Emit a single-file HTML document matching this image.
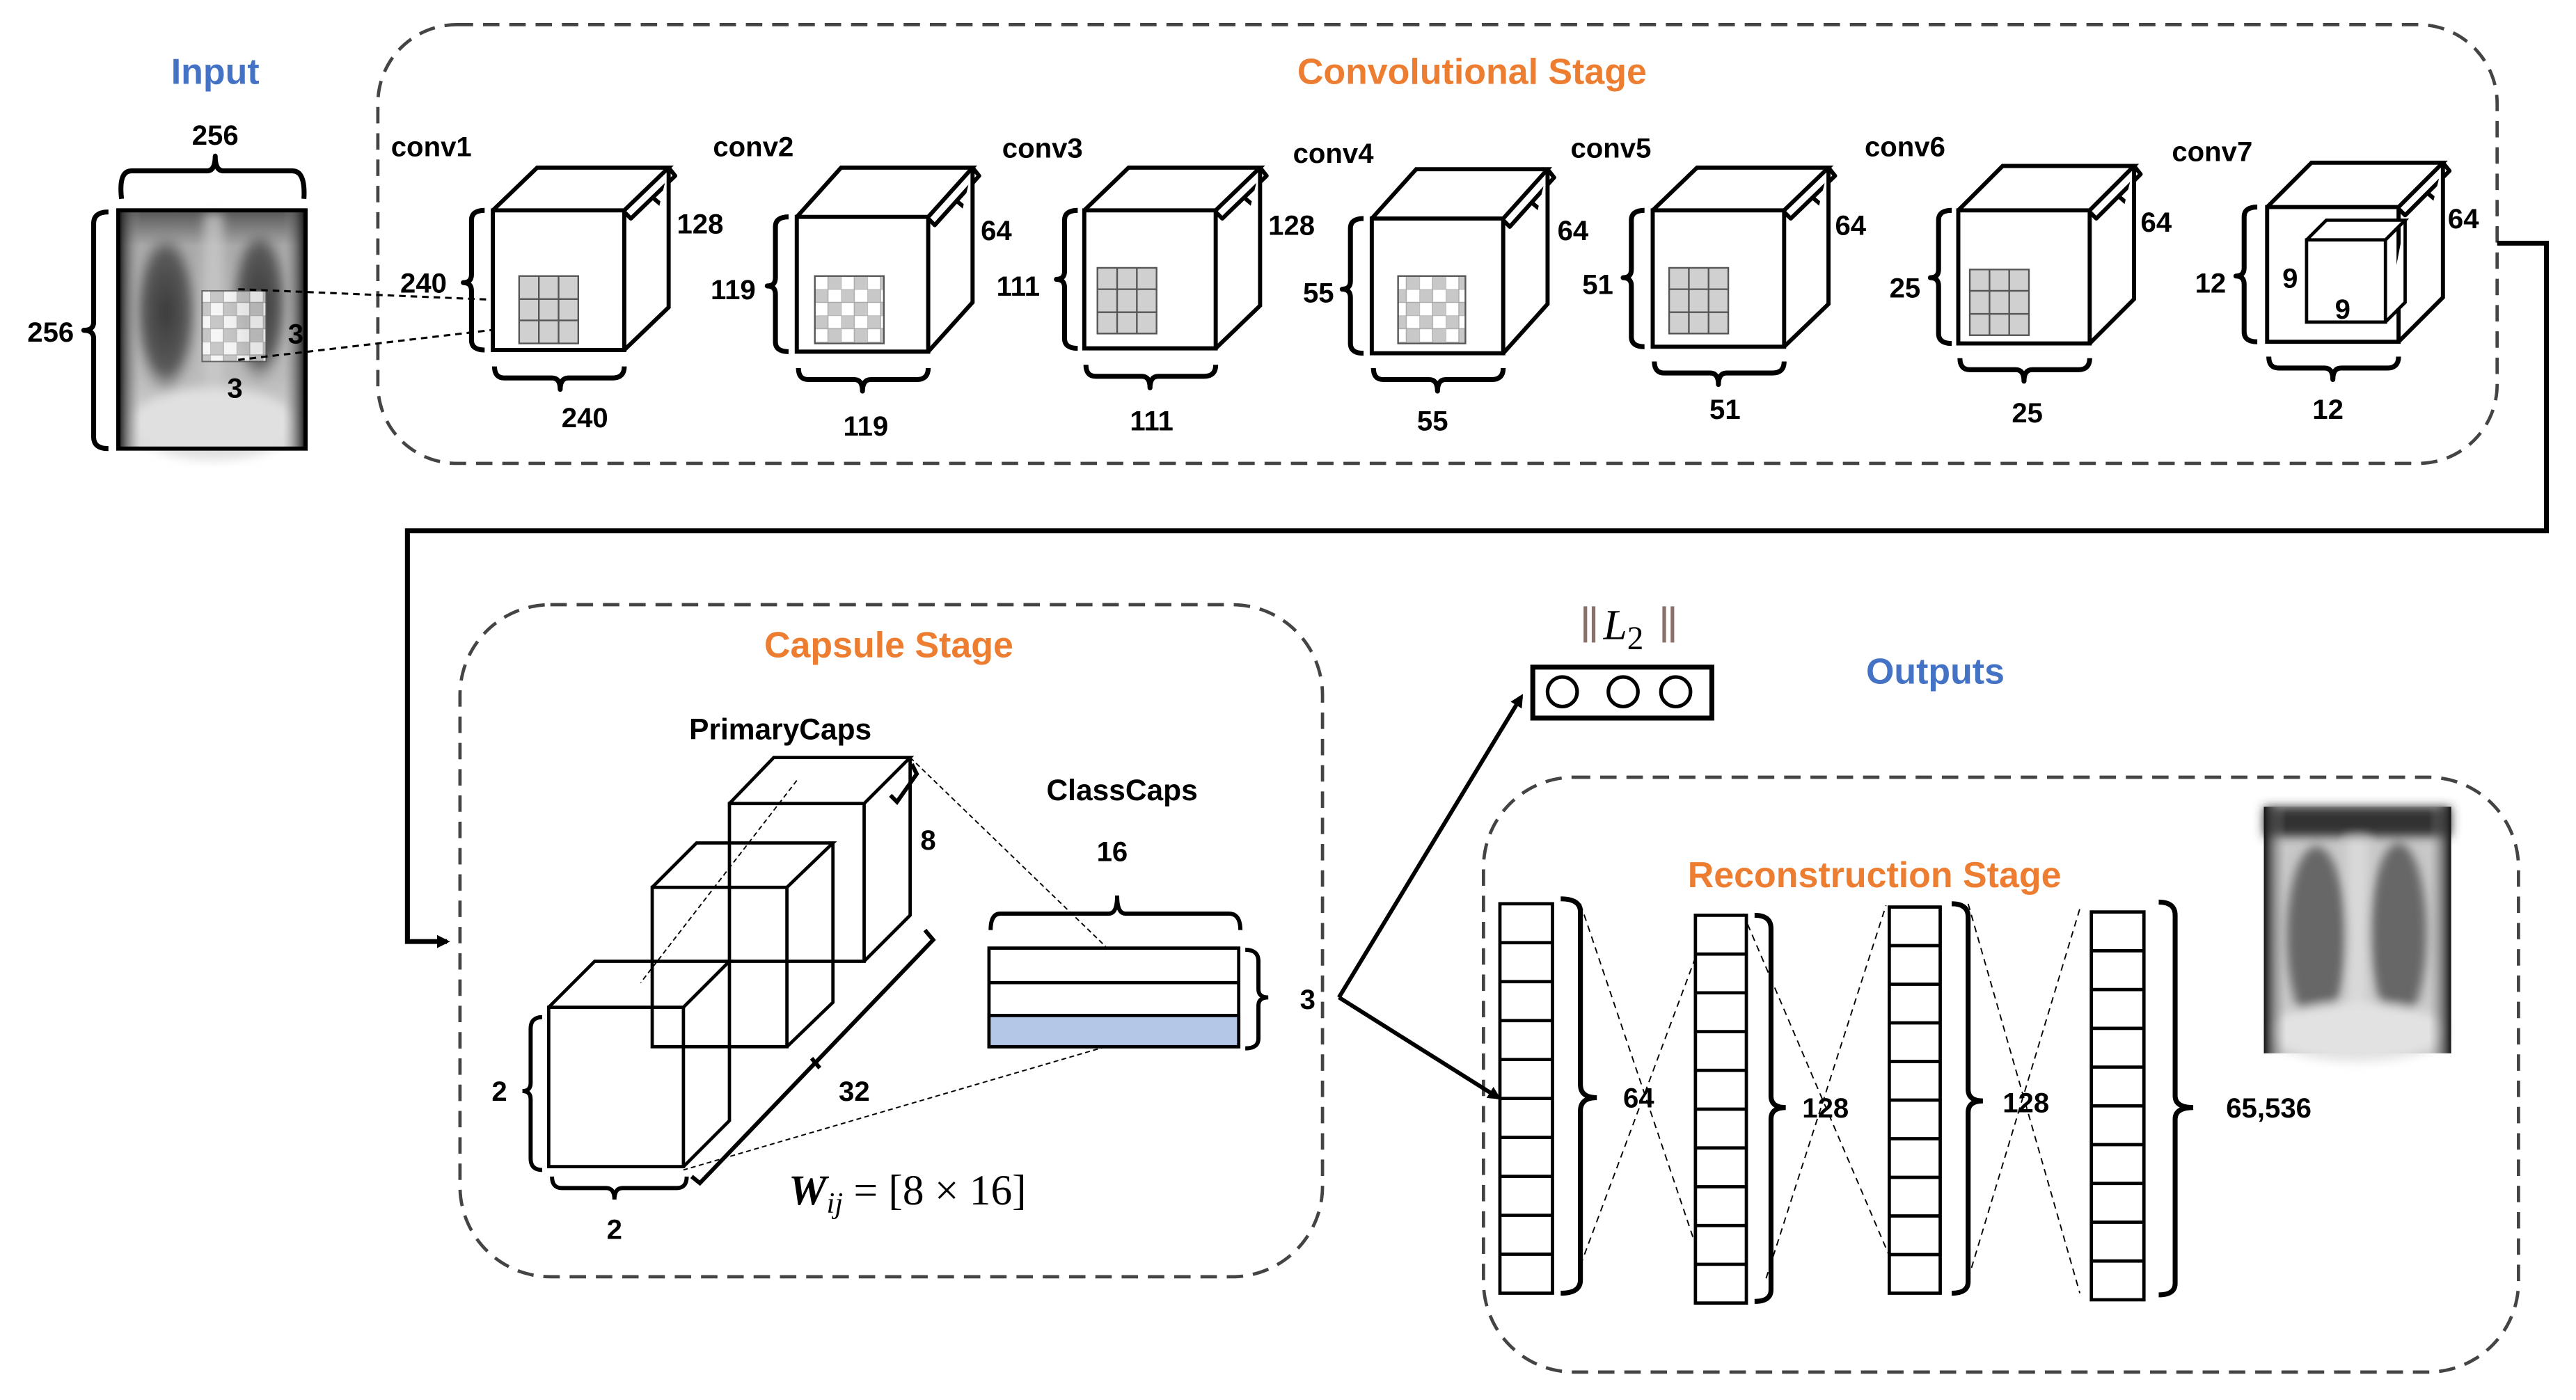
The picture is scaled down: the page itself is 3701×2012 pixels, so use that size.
<!DOCTYPE html>
<html><head><meta charset="utf-8"><style>html,body{margin:0;padding:0;background:#fff}svg{display:block}</style></head>
<body>
<svg xmlns="http://www.w3.org/2000/svg" width="3701" height="2012" viewBox="0 0 1568 852" preserveAspectRatio="none" font-family="Liberation Sans, sans-serif">
<defs>
<pattern id="chk" width="16" height="16" patternUnits="userSpaceOnUse">
<rect width="16" height="16" fill="#fff"/><rect width="8" height="8" fill="#c8c8c8"/><rect x="8" y="8" width="8" height="8" fill="#c8c8c8"/>
<path d="M0 0H16M0 8H16M0 0V16M8 0V16" stroke="#aaa" stroke-width="0.6"/>
</pattern>
<radialGradient id="lung" cx="50%" cy="45%" r="50%"><stop offset="0" stop-color="#3a3a3a"/><stop offset="0.7" stop-color="#5a5a5a"/><stop offset="1" stop-color="#9a9a9a" stop-opacity="0"/></radialGradient>
<linearGradient id="xbg" x1="0" y1="0" x2="0" y2="1"><stop offset="0" stop-color="#555"/><stop offset="0.15" stop-color="#aaa"/><stop offset="0.7" stop-color="#bbb"/><stop offset="1" stop-color="#ddd"/></linearGradient>
<linearGradient id="xside" x1="0" y1="0" x2="1" y2="0"><stop offset="0" stop-color="#111"/><stop offset="0.12" stop-color="#999" stop-opacity="0"/><stop offset="0.88" stop-color="#999" stop-opacity="0"/><stop offset="1" stop-color="#111"/></linearGradient>
<filter id="bl"><feGaussianBlur stdDeviation="3"/></filter>
<marker id="ar" markerWidth="8" markerHeight="8" refX="6" refY="4" orient="auto" markerUnits="userSpaceOnUse"><path d="M0 0L8 4L0 8Z" fill="#000"/></marker>
</defs>

<g fill="none" stroke="#444" stroke-width="2" stroke-dasharray="10 6">
<rect x="230" y="15" width="1290" height="267" rx="48"/>
<rect x="280" y="368" width="525" height="409" rx="55"/>
<rect x="903" y="473" width="630" height="362" rx="55"/>
</g>

<g font-weight="bold" font-size="22" text-anchor="middle">
<text x="131" y="51" fill="#4472c4">Input</text>
<text x="896" y="51" fill="#ed7d31">Convolutional Stage</text>
<text x="541" y="400" fill="#ed7d31">Capsule Stage</text>
<text x="1178" y="416" fill="#4472c4">Outputs</text>
<text x="1141" y="540" fill="#ed7d31">Reconstruction Stage</text>
</g>

<rect x="72" y="128" width="114" height="145" fill="url(#xbg)"/>
<g filter="url(#bl)">
<ellipse cx="101" cy="195" rx="20" ry="52" fill="url(#lung)"/>
<ellipse cx="158" cy="190" rx="18" ry="50" fill="url(#lung)"/>
<rect x="124" y="130" width="12" height="140" fill="#ccc" opacity="0.7"/>
<ellipse cx="130" cy="258" rx="50" ry="22" fill="#e0e0e0"/>
</g>
<rect x="72" y="128" width="114" height="145" fill="url(#xside)"/>
<rect x="72" y="128" width="114" height="145" fill="none" stroke="#000" stroke-width="2.5"/>
<rect x="123" y="177" width="39" height="43" fill="url(#chk)" opacity="0.85" stroke="#555" stroke-width="0.8"/>
<g font-weight="bold" font-size="17" text-anchor="middle">
<text x="180" y="209">3</text><text x="143" y="242">3</text>
</g>
<g stroke="#000" stroke-width="1.3" stroke-dasharray="4 3" fill="none">
<path d="M145 176L315 183"/><path d="M145 219L315 199"/>
</g>

<g fill="none" stroke="#000" stroke-width="3" stroke-linejoin="round">
<path d="M74 121Q72 104 80 104L126 104Q131 104 131 95Q131 104 136 104L178 104Q186 104 185 121"/>
<path d="M66 129Q57 129 57 136L57 196Q57 201 51 201Q57 201 57 206L57 266Q57 273 66 273"/>
<path d="M295 128Q287 128 287 134L287 167Q287 172 282 172Q287 172 287 177L287 207Q287 213 295 213"/>
<path d="M480 132Q472 132 472 138L472 169Q472 174 467 174Q472 174 472 179L472 208Q472 214 480 214"/>
<path d="M656 128Q648 128 648 134L648 165Q648 170 643 170Q648 170 648 175L648 206Q648 212 656 212"/>
<path d="M830 133Q822 133 822 139L822 171Q822 176 817 176Q822 176 822 181L822 209Q822 215 830 215"/>
<path d="M1001 128Q993 128 993 134L993 164Q993 169 988 169Q993 169 993 174L993 205Q993 211 1001 211"/>
<path d="M1188 128Q1180 128 1180 134L1180 164Q1180 169 1175 169Q1180 169 1180 174L1180 203Q1180 209 1188 209"/>
<path d="M1374 126Q1366 126 1366 132L1366 163Q1366 168 1361 168Q1366 168 1366 173L1366 202Q1366 208 1374 208"/>
<path d="M301 223Q301 230 307 230L336 230Q341 230 341 237Q341 230 346 230L373 230Q380 230 380 223"/>
<path d="M486 224Q486 231 492 231L520 231Q525 231 525 238Q525 231 530 231L558 231Q565 231 565 224"/>
<path d="M661 222Q661 229 667 229L695 229Q700 229 700 236Q700 229 705 229L733 229Q740 229 740 222"/>
<path d="M836 224Q836 231 842 231L870 231Q875 231 875 238Q875 231 880 231L908 231Q915 231 915 224"/>
<path d="M1007 220Q1007 227 1013 227L1041 227Q1046 227 1046 234Q1046 227 1051 227L1079 227Q1086 227 1086 220"/>
<path d="M1193 218Q1193 225 1199 225L1227 225Q1232 225 1232 232Q1232 225 1237 225L1265 225Q1272 225 1272 218"/>
<path d="M1381 217Q1381 224 1387 224L1415 224Q1420 224 1420 231Q1420 224 1425 224L1453 224Q1460 224 1460 217"/>
<path stroke-width="2.5" d="M407 102L411 107L384 133L380 129M397 120L403 125"/>
<path stroke-width="2.5" d="M592 102L596 107L569 137L565 133M582 122L588 127"/>
<path stroke-width="2.5" d="M767 102L771 107L744 133L740 129M757 120L763 125"/>
<path stroke-width="2.5" d="M942 103L946 108L919 138L915 134M932 123L938 128"/>
<path stroke-width="2.5" d="M1113 102L1117 107L1090 133L1086 129M1103 120L1109 125"/>
<path stroke-width="2.5" d="M1299 101L1303 106L1276 133L1272 129M1289 119L1295 124"/>
<path stroke-width="2.5" d="M1487 99L1491 104L1464 131L1460 127M1477 117L1483 122"/>
</g>

<g fill="#fff" stroke="#000" stroke-width="2.5" stroke-linejoin="miter">
<path d="M300 128H380V213H300Z M300 128L327 102H407L380 128 M407 102V187L380 213"/>
<path d="M485 132H565V214H485Z M485 132L512 102H592L565 132 M592 102V184L565 214"/>
<path d="M660 128H740V212H660Z M660 128L687 102H767L740 128 M767 102V186L740 212"/>
<path d="M835 133H915V215H835Z M835 133L862 103H942L915 133 M942 103V185L915 215"/>
<path d="M1006 128H1086V211H1006Z M1006 128L1033 102H1113L1086 128 M1113 102V185L1086 211"/>
<path d="M1192 128H1272V209H1192Z M1192 128L1219 101H1299L1272 128 M1299 101V182L1272 209"/>
<path d="M1380 126H1460V208H1380Z M1380 126L1407 99H1487L1460 126 M1487 99V181L1460 208"/>
<path stroke-width="2" d="M1404 146H1452V196H1404Z M1404 146L1416 134H1464L1452 146 M1464 134V184L1452 196"/>
</g>
<g stroke="#555" stroke-width="1">
<rect x="316" y="168" width="36" height="41" fill="#d0d0d0"/><path d="M328 168V209M340 168V209M316 182H352M316 195H352"/>
<rect x="496" y="168" width="42" height="41" fill="url(#chk)"/>
<rect x="668" y="163" width="36" height="40" fill="#d0d0d0"/><path d="M680 163V203M692 163V203M668 176H704M668 190H704"/>
<rect x="851" y="168" width="41" height="41" fill="url(#chk)"/>
<rect x="1016" y="163" width="36" height="40" fill="#d0d0d0"/><path d="M1028 163V203M1040 163V203M1016 176H1052M1016 190H1052"/>
<rect x="1199" y="164" width="36" height="40" fill="#d0d0d0"/><path d="M1211 164V204M1223 164V204M1199 177H1235M1199 191H1235"/>
</g>

<g font-weight="bold" font-size="17">
<text x="238" y="95">conv1</text><text x="434" y="95">conv2</text><text x="610" y="96">conv3</text>
<text x="787" y="99">conv4</text><text x="956" y="96">conv5</text><text x="1135" y="95">conv6</text><text x="1322" y="98">conv7</text>
</g>
<g font-weight="bold" font-size="17" text-anchor="middle">
<text x="131" y="88">256</text>
<text x="356" y="260">240</text><text x="527" y="265">119</text><text x="701" y="262">111</text>
<text x="872" y="262">55</text><text x="1050" y="255">51</text><text x="1234" y="257">25</text><text x="1417" y="255">12</text>
<text x="1394" y="175">9</text><text x="1426" y="194">9</text>
</g>
<g font-weight="bold" font-size="17" text-anchor="end">
<text x="45" y="208">256</text>
<text x="272" y="178">240</text><text x="460" y="182">119</text><text x="633" y="180">111</text>
<text x="812" y="184">55</text><text x="982" y="179">51</text><text x="1169" y="181">25</text><text x="1355" y="178">12</text>
</g>
<g font-weight="bold" font-size="17">
<text x="412" y="142">128</text><text x="597" y="146">64</text><text x="772" y="143">128</text>
<text x="948" y="146">64</text><text x="1117" y="143">64</text><text x="1303" y="141">64</text><text x="1490" y="139">64</text>
</g>

<path d="M1520 148H1550V323H248V573H272" fill="none" stroke="#000" stroke-width="3" marker-end="url(#ar)"/>

<path d="M485 475L390 598" stroke="#000" stroke-width="0.8" stroke-dasharray="3 2" fill="none"/>
<g fill="none" stroke="#000" stroke-width="2">
<path d="M444 489H526V585H444Z M444 489L471 461H554L526 489 M554 461V557L526 585"/>
<path d="M397 540H479V637H397Z M397 540L424 513H507L479 540 M507 513V610L479 637"/>
<path d="M334 613H416V710H334Z M334 613L362 585H444L416 613 M444 585V682L416 710"/>
</g>
<g fill="none" stroke="#000" stroke-width="0.8" stroke-dasharray="3 2">
<path d="M554 461L673 576"/><path d="M673 637L416 712"/>
</g>
<g fill="none" stroke="#000" stroke-width="2.5">
<path d="M555 465L558 471L546 488L542 484"/>
<path d="M563 566L568 572L426 720L421 716M494 644L499 650"/>
<path d="M330 619Q323 619 323 626L323 659Q323 664 318 664Q323 664 323 669L323 705Q323 712 330 712"/>
<path d="M336 716Q336 723 342 723L369 723Q374 723 374 730Q374 723 379 723L412 723Q418 723 418 716"/>
<path d="M603 566Q603 556 609 556L675 556Q680 556 680 545Q680 556 685 556L748 556Q755 556 755 566"/>
<path d="M758 578Q766 578 766 585L766 602Q766 607 772 607Q766 607 766 612L766 632Q766 638 758 638"/>
</g>
<rect x="602" y="577" width="152" height="60" fill="#fff" stroke="#000" stroke-width="2"/>
<rect x="602" y="618" width="152" height="19" fill="#b4c7e7" stroke="#000" stroke-width="2"/>
<path d="M602 598H754" stroke="#000" stroke-width="2"/>
<g font-weight="bold" font-size="18" text-anchor="middle">
<text x="475" y="450">PrimaryCaps</text><text x="683" y="487">ClassCaps</text>
</g>
<g font-weight="bold" font-size="17" text-anchor="middle">
<text x="677" y="524">16</text><text x="565" y="517">8</text><text x="520" y="670">32</text>
<text x="304" y="670">2</text><text x="374" y="754">2</text><text x="796" y="614">3</text>
</g>
<text x="480" y="733" font-family="Liberation Serif, serif" font-size="26"><tspan font-weight="bold" font-style="italic">W</tspan><tspan font-style="italic" font-size="18" dy="5">ij</tspan><tspan dy="-5"> = [8 × 16]</tspan></text>

<path d="M815 607L926 424" stroke="#000" stroke-width="2.5" fill="none" marker-end="url(#ar)"/>
<path d="M815 607L912 668" stroke="#000" stroke-width="2.5" fill="none" marker-end="url(#ar)"/>
<rect x="933" y="406" width="109" height="31" fill="#fff" stroke="#000" stroke-width="3"/>
<g fill="none" stroke="#000" stroke-width="2.2"><circle cx="951" cy="421" r="9"/><circle cx="988" cy="421" r="9"/><circle cx="1020" cy="421" r="9"/></g>
<g stroke="#8a6f6b" stroke-width="2.2"><path d="M965 369V391M970 369V391M1013 369V391M1018 369V391"/></g>
<text x="976" y="389" font-family="Liberation Serif, serif" font-style="italic" font-size="26">L<tspan font-style="normal" font-size="20" dy="6">2</tspan></text>

<g fill="none" stroke="#000" stroke-width="0.8" stroke-dasharray="4 3">
<path d="M962 550L1042 787M962 770L1042 556"/>
<path d="M1061 556L1158 783M1075 778L1148 551"/>
<path d="M1198 550L1266 787M1196 785L1266 553"/>
</g>
<g fill="#fff" stroke="#000" stroke-width="2">
<rect x="913" y="550" width="32" height="237"/>
<rect x="1032" y="557" width="31" height="236"/>
<rect x="1150" y="552" width="31" height="235"/>
<rect x="1273" y="555" width="32" height="236"/>
</g>
<g stroke="#000" stroke-width="2">
<path d="M913 573.7H945M913 597.4H945M913 621.1H945M913 644.8H945M913 668.5H945M913 692.2H945M913 715.9H945M913 739.6H945M913 763.3H945"/>
<path d="M1032 580.6H1063M1032 604.2H1063M1032 627.8H1063M1032 651.4H1063M1032 675H1063M1032 698.6H1063M1032 722.2H1063M1032 745.8H1063M1032 769.4H1063"/>
<path d="M1150 575.5H1181M1150 599H1181M1150 622.5H1181M1150 646H1181M1150 669.5H1181M1150 693H1181M1150 716.5H1181M1150 740H1181M1150 763.5H1181"/>
<path d="M1273 578.6H1305M1273 602.2H1305M1273 625.8H1305M1273 649.4H1305M1273 673H1305M1273 696.6H1305M1273 720.2H1305M1273 743.8H1305M1273 767.4H1305"/>
</g>
<g fill="none" stroke="#000" stroke-width="3">
<path d="M950 547Q962 547 962 555L962 660Q962 668 972 668Q962 668 962 676L962 779Q962 787 950 787"/>
<path d="M1068 557Q1078 557 1078 565L1078 667Q1078 674 1087 674Q1078 674 1078 681L1078 785Q1078 792 1068 792"/>
<path d="M1188 550Q1198 550 1198 558L1198 663Q1198 670 1207 670Q1198 670 1198 677L1198 780Q1198 787 1188 787"/>
<path d="M1314 549Q1324 549 1324 557L1324 667Q1324 674 1335 674Q1324 674 1324 681L1324 781Q1324 788 1314 788"/>
</g>
<g font-weight="bold" font-size="17">
<text x="988" y="674">64</text><text x="1097" y="680">128</text><text x="1219" y="677">128</text><text x="1355" y="680">65,536</text>
</g>

<rect x="1378" y="491" width="114" height="150" fill="#c8c8c8"/>
<g filter="url(#bl)">
<ellipse cx="1410" cy="570" rx="18" ry="55" fill="#555" opacity="0.85"/>
<ellipse cx="1460" cy="568" rx="17" ry="55" fill="#555" opacity="0.85"/>
<rect x="1429" y="495" width="12" height="140" fill="#ddd" opacity="0.8"/>
<ellipse cx="1435" cy="628" rx="55" ry="18" fill="#e2e2e2"/>
<rect x="1378" y="491" width="114" height="18" fill="#333"/>
</g>
<rect x="1378" y="491" width="114" height="150" fill="url(#xside)"/>
</svg>
</body></html>
